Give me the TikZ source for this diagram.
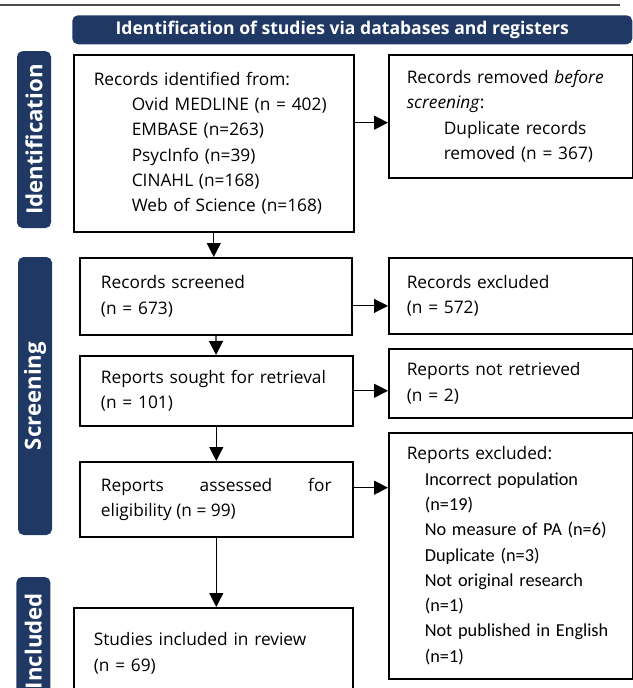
\documentclass[tikz,border=0pt]{standalone}
\usepackage{fontspec}
\setmainfont{Open Sans}
\newfontfamily\calfont{Carlito}
\usepackage{xcolor}
\usetikzlibrary{arrows.meta}
\definecolor{prismanavy}{HTML}{1F3864}

\newcommand{\exitem}[1]{\hspace*{0.45cm}{\calfont\fontsize{13}{18}\selectfont #1}}

\begin{document}
\begin{tikzpicture}[
  font=\fontsize{12.3}{18}\selectfont,
  >={Triangle[length=3.5mm,width=3.5mm]},
  record/.style={draw=black, line width=1.1pt, fill=white,
                 inner xsep=5.3mm, inner ysep=0pt, align=left, anchor=north west},
  banner/.style={fill=prismanavy, rounded corners=4pt, text=white, inner sep=0pt,
                 font=\fontsize{12.5}{14}\selectfont\bfseries, anchor=north west},
  phase/.style={fill=prismanavy, rounded corners=4pt, text=white, rotate=90,
                font=\fontsize{15.8}{18}\selectfont\bfseries, inner sep=0pt,
                minimum height=0.85cm},
  flow/.style={->, line width=0.8pt, black}]

%% page frame: 633 x 688 px, 1 px = 0.025 cm
\path[use as bounding box, clip] (0,0) rectangle (15.825,-17.2);
\draw[line width=0.8pt, black!70] (0,-0.125) -- (15.5,-0.125);

%% ---- banner and phase bars ----
% title sits a little left of the bar's centre
\node[banner, minimum width=14cm, minimum height=0.725cm] (head) at (1.8,-0.375)
  {\hspace*{-0.5cm}Identification of studies via databases and registers};

\node[phase, minimum width=4.425cm] (idbar) at (0.85,-3.49) {Identification};
\node[phase, minimum width=6.95cm] (scrbar) at (0.875,-9.9) {Screening};
\node[phase, minimum width=3.2cm] (incbar) at (0.835,-16.025) {Included};

%% ---- identification ----
\node[record, text width=6.0cm, minimum height=4.425cm, inner xsep=5mm] (ident)
  at (1.825,-1.35)
  {Records identified from:\\
   \hspace*{0.95cm}Ovid MEDLINE (n = 402)\\
   \hspace*{0.95cm}EMBASE (n=263)\\
   \hspace*{0.95cm}PsycInfo (n=39)\\
   \hspace*{0.95cm}CINAHL (n=168)\\
   \hspace*{0.95cm}Web of Science (n=168)};

\node[record, text width=5.2cm, minimum height=3.075cm, inner xsep=4.5mm] (removed)
  at (9.7,-1.35)
  {Records removed \textit{before}\\
   \textit{screening}:\\
   \hspace*{0.925cm}Duplicate records\\
   \hspace*{0.925cm}removed (n = 367)};

%% ---- screening ----
\node[record, text width=5.74cm, minimum height=1.925cm] (screened) at (1.975,-6.425)
  {Records screened\\ (n = 673)};
\node[record, text width=5.2cm, minimum height=1.9cm, inner xsep=4.5mm] (excluded)
  at (9.7,-6.425)
  {Records excluded\\ (n = 572)};

\node[record, text width=5.765cm, minimum height=1.75cm] (sought) at (1.975,-8.875)
  {Reports sought for retrieval\\ (n = 101)};
\node[record, text width=5.2cm, minimum height=1.725cm, inner xsep=4.5mm] (notret)
  at (9.7,-8.7)
  {Reports not retrieved\\ (n = 2)};

\node[record, text width=5.765cm, minimum height=1.875cm, align=justify] (assessed)
  at (1.975,-11.525)
  {Reports assessed for \mbox{eligibility} (n = 99)};
\node[record, text width=5.2cm, minimum height=6.15cm, inner xsep=4.5mm] (repexcl)
  at (9.7,-10.8)
  {Reports excluded:\\
   \exitem{Incorrect population}\\
   \exitem{(n=19)}\\
   \exitem{No measure of PA (n=6)}\\
   \exitem{Duplicate (n=3)}\\
   \exitem{Not original research}\\
   \exitem{(n=1)}\\
   \exitem{Not published in English}\\
   \exitem{(n=1)}};

%% ---- included ----
\node[record, text width=5.975cm, minimum height=2.275cm, inner xsep=5mm] (included)
  at (1.825,-15.175)
  {Studies included in review\\ (n = 69)};

%% ---- flow ----
\draw[flow] (ident.south) -- (ident.south |- screened.north);
\draw[flow] (screened) -- (sought);
\draw[flow] (sought) -- (assessed);
\draw[flow] (assessed.south) -- (assessed.south |- included.north);

\draw[flow] ([yshift=-1.6mm]removed.west -| ident.east) -- ([yshift=-1.6mm]removed.west);
\draw[flow] ([yshift=-2.4mm]screened.east) -- ([yshift=-2.4mm]screened.east -| excluded.west);
\draw[flow] (sought.east) -- (sought.east -| notret.west);
\draw[flow] ([yshift=2.9mm]assessed.east) -- ([yshift=2.9mm]assessed.east -| repexcl.west);
\end{tikzpicture}
\end{document}
